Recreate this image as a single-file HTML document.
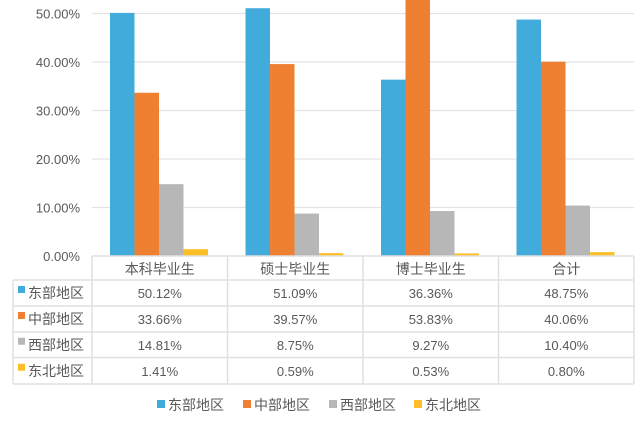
<!DOCTYPE html>
<html><head><meta charset="utf-8"><style>
body{margin:0;background:#fff}
svg text{font-family:"Liberation Sans","Noto Sans CJK SC",sans-serif;fill:#595959}
</style></head><body>
<svg id="c" width="641" height="420" xmlns="http://www.w3.org/2000/svg"></svg>
<script>
const categories=["本科毕业生","硕士毕业生","博士毕业生","合计"];
const seriesNames=["东部地区","中部地区","西部地区","东北地区"];
const colors=["#41abdc","#ef7f31","#b7b7b7","#fdbf27"];
const east=[50.12,51.09,36.36,48.75];
const central=[33.66,39.57,53.83,40.06];
const west=[14.81,8.75,9.27,10.40];
const northeast=[1.41,0.59,0.53,0.80];
const yTicks=[0,10,20,30,40,50];
const series=[east,central,west,northeast];
const svg=document.getElementById('c');
const NS="http://www.w3.org/2000/svg";
const x0=92,x1=634,y0=256,pxPer=4.85,cw=(x1-x0)/categories.length,bw=24.5;
const y=v=>y0-v*pxPer;
function mk(t,a,txt){const e=document.createElementNS(NS,t);for(const k in a)e.setAttribute(k,a[k]);if(txt!=null)e.textContent=txt;svg.appendChild(e);return e;}
yTicks.forEach(t=>{
 if(t>0){const g=mk('line',{x1:x0,x2:x1,y1:y(t),y2:y(t),stroke:'#e3e3e3','stroke-width':1.2});
 
 }
 const l=mk('text',{x:80,y:y(t)+5,'text-anchor':'end','font-size':13},t.toFixed(2)+'%');
 
 
});
series.forEach((s,si)=>s.forEach((v,ci)=>{
 const r=mk('rect',{x:x0+ci*cw+18+si*bw,y:y(v),width:bw,height:v*pxPer,fill:colors[si]});
 
 
}));
// table
const rows=[256,280,306,332,357.5,384];
const tc='#e0e0e0';
mk('line',{x1:x0,x2:x1,y1:256,y2:256,stroke:tc,'stroke-width':1.5});
for(let i=1;i<rows.length;i++){mk('line',{x1:13,x2:x1,y1:rows[i],y2:rows[i],stroke:tc,'stroke-width':1.5});}
mk('line',{x1:13,x2:13,y1:280,y2:384,stroke:tc,'stroke-width':1.5});
for(let c=0;c<=categories.length;c++){mk('line',{x1:x0+c*cw,x2:x0+c*cw,y1:256,y2:384,stroke:tc,'stroke-width':1.5});}
categories.forEach((c,ci)=>{
 const t=mk('text',{x:x0+ci*cw+cw/2,y:274,'text-anchor':'middle','font-size':14},c);
 
 
});
series.forEach((s,si)=>{
 const cy=(rows[si+1]+rows[si+2])/2;
 mk('rect',{x:18,y:cy-7,width:7,height:7,fill:colors[si]});
 const n=mk('text',{x:28,y:cy+5,'font-size':14},seriesNames[si]);
 
 
 s.forEach((v,ci)=>{
  const t=mk('text',{x:x0+ci*cw+cw/2,y:cy+5,'text-anchor':'middle','font-size':13},v.toFixed(2)+'%');
  
  
 });
});
// legend
const lx=[157,243,329,414];
seriesNames.forEach((n,i)=>{
 mk('rect',{x:lx[i],y:400,width:8,height:8,fill:colors[i]});
 const t=mk('text',{x:lx[i]+11,y:410,'font-size':14},n);
 
 
});
</script>
</body></html>
